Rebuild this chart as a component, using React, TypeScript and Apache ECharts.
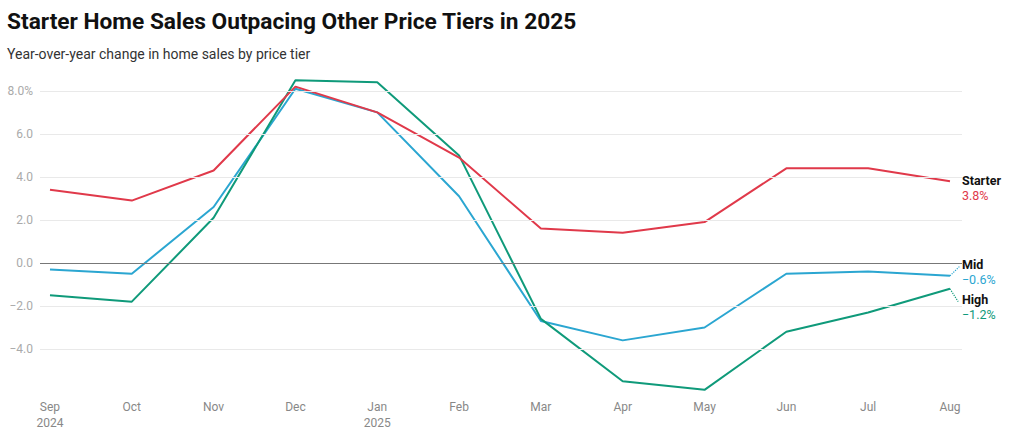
import React, { useEffect, useRef } from "react";
import * as echarts from "echarts";

const months = ["Sep", "Oct", "Nov", "Dec", "Jan", "Feb", "Mar", "Apr", "May", "Jun", "Jul", "Aug"];
const yearLabels: Record<number, string> = { 0: "2024", 4: "2025" };
const starter = [3.4, 2.9, 4.3, 8.2, 7.0, 4.9, 1.6, 1.4, 1.9, 4.4, 4.4, 3.8];
const mid = [-0.3, -0.5, 2.6, 8.1, 7.0, 3.1, -2.7, -3.6, -3.0, -0.5, -0.4, -0.6];
const high = [-1.5, -1.8, 2.1, 8.5, 8.4, 5.0, -2.6, -5.5, -5.9, -3.2, -2.3, -1.2];
const yTicks = [-4, -2, 0, 2, 4, 6, 8];
const gridValues = [-4, -2, 2, 4, 6, 8];

const MINUS = "\u2212";
const fmt = (v: number) => (v < 0 ? MINUS : "") + Math.abs(v).toFixed(1);

export default function App() {
  const ref = useRef<HTMLDivElement>(null);
  useEffect(() => {
    document.body.style.margin = "0";
    if (!ref.current) return;
    const chart = echarts.init(ref.current, undefined, { renderer: "svg" });
    const font = "Roboto";
    const last = months.length - 1;
    const mk = (name: string, data: number[], color: string, z: number, dy: number, leader?: [number, number]) => ({
      name,
      type: "line",
      data: data.map((v, i) => [i, v]),
      symbol: "none",
      z,
      lineStyle: { color, width: 2 },
      itemStyle: { color },
      endLabel: {
        show: true,
        distance: 12,
        offset: [0, dy],
        formatter: (p: any) => `{n|${name}}\n{v|${fmt(p.value[1])}%}`,
        rich: {
          n: { fontFamily: font, fontSize: 12.5, fontWeight: "bold", color: "#111", lineHeight: 15 },
          v: { fontFamily: font, fontSize: 12.5, color, lineHeight: 15 },
        },
      },
      markLine: leader
        ? {
            silent: true,
            symbol: "none",
            label: { show: false },
            lineStyle: { color, type: "dotted", width: 1.2 },
            data: [
              [
                { coord: [last, data[last]] },
                { coord: [last + leader[0], data[last] + leader[1]] },
              ],
            ],
          }
        : undefined,
    });
    chart.setOption({
      animation: false,
      textStyle: { fontFamily: font },
      title: {
        text: "Starter Home Sales Outpacing Other Price Tiers in 2025",
        subtext: "Year-over-year change in home sales by price tier",
        left: 2,
        top: 5,
        itemGap: 14,
        textStyle: { fontFamily: font, fontSize: 22.7, fontWeight: "bold", color: "#111" },
        subtextStyle: { fontFamily: font, fontSize: 14, color: "#333" },
      },
      grid: { left: 40, right: 62, top: 78, bottom: 48 },
      xAxis: {
        type: "value",
        min: -0.122,
        max: 11.147,
        splitLine: { show: false },
        axisLine: { show: false },
        axisTick: { show: false },
        axisLabel: {
          customValues: months.map((_, i) => i),
          margin: 7,
          color: "#888",
          fontSize: 12,
          lineHeight: 16,
          fontFamily: font,
          formatter: (v: number) => {
            const i = Math.round(v);
            return months[i] + (yearLabels[i] ? "\n" + yearLabels[i] : "");
          },
        },
      },
      yAxis: {
        type: "value",
        min: -6,
        max: 8.6,
        interval: 2,
        splitLine: { show: false },
        axisLine: { show: false },
        axisTick: { show: false },
        axisLabel: {
          margin: 7,
          color: "#aaa",
          fontSize: 12,
          fontFamily: font,
          formatter: (v: number) => {
            if (!yTicks.includes(v)) return "";
            return v === 8 ? fmt(v) + "%" : fmt(v);
          },
        },
      },
      series: [
        {
          type: "line",
          data: [],
          z: 1,
          silent: true,
          markLine: {
            silent: true,
            symbol: "none",
            label: { show: false },
            data: [
              ...gridValues.map((v) => ({ yAxis: v, lineStyle: { color: "#e9e9e9", width: 1, type: "solid" } })),
              { yAxis: 0, lineStyle: { color: "#777", width: 1, type: "solid" } },
            ],
          },
        },
        mk("Mid", mid, "#2ba6d1", 2, -4, [0.12, 0.45]),
        mk("High", high, "#0f9a7a", 3, 18, [0.1, -0.6]),
        mk("Starter", starter, "#e0394a", 4, 7),
      ],
    });
    return () => chart.dispose();
  }, []);
  return <div ref={ref} style={{ width: 1024, height: 440 }} />;
}
